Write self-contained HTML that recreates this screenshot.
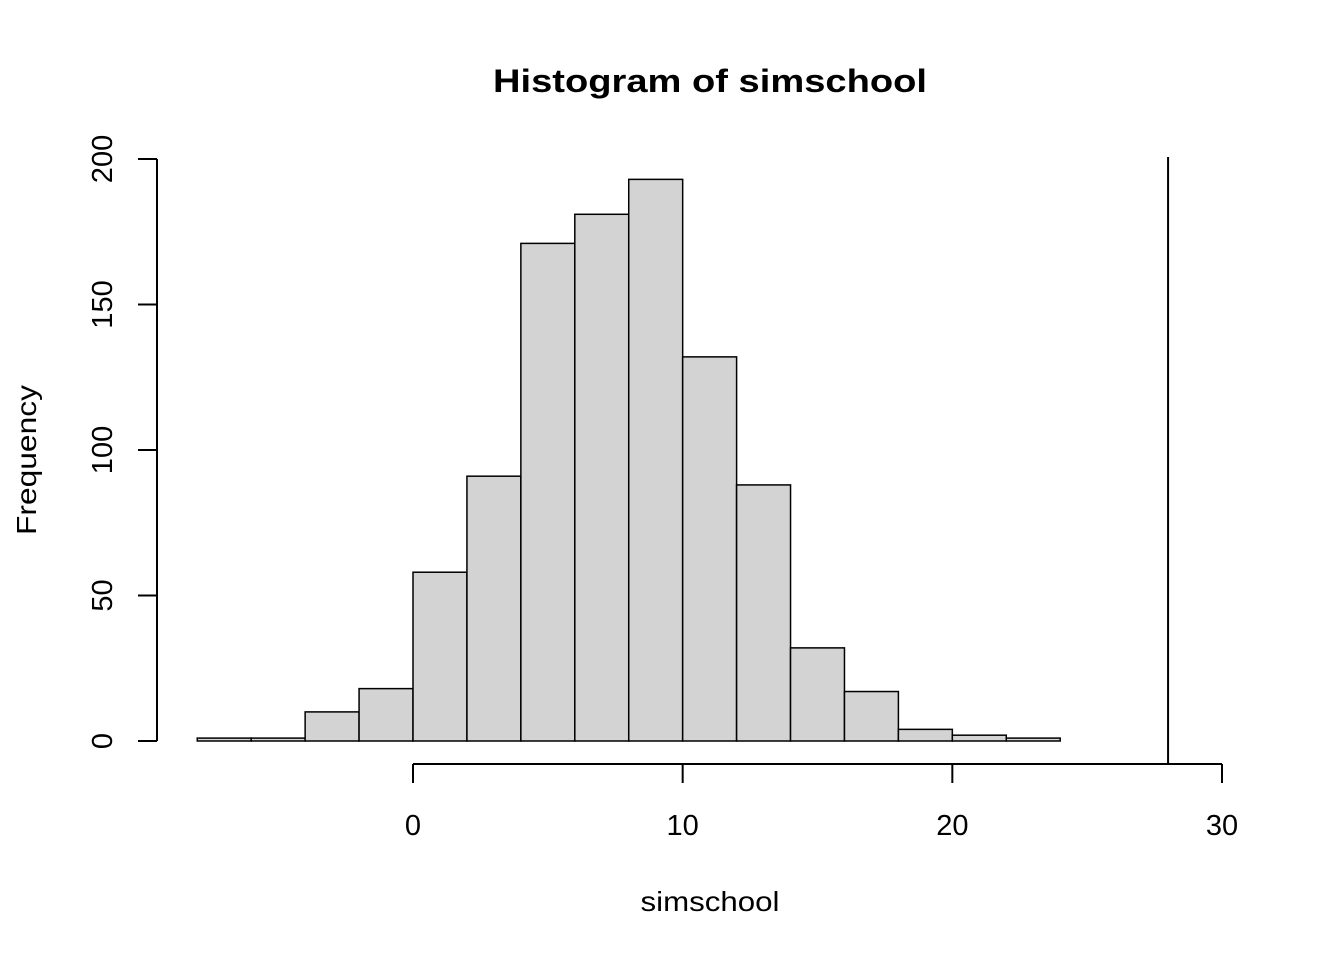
<!DOCTYPE html>
<html><head><meta charset="utf-8"><style>
html,body{margin:0;padding:0;background:#fff;}
svg{display:block;font-family:"Liberation Sans",Arial,sans-serif;}
</style></head><body>
<svg id="chart" width="1344" height="960" viewBox="0 0 1344 960">
<text x="710" y="92" font-size="32" font-weight="bold" text-anchor="middle" textLength="434" lengthAdjust="spacingAndGlyphs">Histogram of simschool</text>
<text x="710" y="911" font-size="28" text-anchor="middle" textLength="139" lengthAdjust="spacingAndGlyphs">simschool</text>
<text x="0" y="0" font-size="28" text-anchor="middle" textLength="150" lengthAdjust="spacingAndGlyphs" transform="translate(36,460) rotate(-90)">Frequency</text>
<g id="bars"></g>
<g id="axes"></g>
</svg>
<script>
const binStarts = [-8,-6,-4,-2,0,2,4,6,8,10,12,14,16,18,20,22];
const binWidth = 2;
const counts = [1,1,10,18,58,91,171,181,193,132,88,32,17,4,2,1];
const xTicks = [0,10,20,30];
const yTicks = [0,50,100,150,200];
const refLineX = [28];

const NS = 'http://www.w3.org/2000/svg';
const xs = v => 413 + (v - 0) * (1222 - 413) / 30;
const ys = v => 741 - v * (741 - 159) / 200;
function mk(tag, attrs, parent) {
  const e = document.createElementNS(NS, tag);
  for (const k in attrs) e.setAttribute(k, attrs[k]);
  parent.appendChild(e); return e;
}
const bars = document.getElementById('bars');
const axes = document.getElementById('axes');
binStarts.forEach((b, i) => {
  const x0 = xs(b), x1 = xs(b + binWidth), y = ys(counts[i]);
  const r = mk('rect', {x: x0, y: y, width: x1 - x0, height: ys(0) - y, fill: '#d3d3d3', stroke: '#000', 'stroke-width': 1.5}, bars);
  
  
});
const xl = mk('line', {x1: xs(xTicks[0]), x2: xs(xTicks[xTicks.length-1]), y1: 764, y2: 764, stroke: '#000', 'stroke-width': 2}, axes);


xTicks.forEach(t => {
  const tk = mk('line', {x1: xs(t), x2: xs(t), y1: 764, y2: 783, stroke: '#000', 'stroke-width': 2}, axes);
  
  
  const lb = mk('text', {x: xs(t), y: 835, 'font-size': 29, 'text-anchor': 'middle'}, axes);
  lb.textContent = t;
  
  
});
const yl = mk('line', {x1: 157, x2: 157, y1: ys(yTicks[0]), y2: ys(yTicks[yTicks.length-1]), stroke: '#000', 'stroke-width': 2}, axes);


yTicks.forEach(t => {
  const tk = mk('line', {x1: 138, x2: 157, y1: ys(t), y2: ys(t), stroke: '#000', 'stroke-width': 2}, axes);
  
  
  const lb = mk('text', {x: 0, y: 0, 'font-size': 29, 'text-anchor': 'middle', transform: 'translate(112,' + ys(t) + ') rotate(-90)'}, axes);
  lb.textContent = t;
  
  
});
refLineX.forEach(v => {
  const l = mk('line', {x1: xs(v), x2: xs(v), y1: 157, y2: 764, stroke: '#000', 'stroke-width': 2}, axes);
  
  
});
</script>
</body></html>
